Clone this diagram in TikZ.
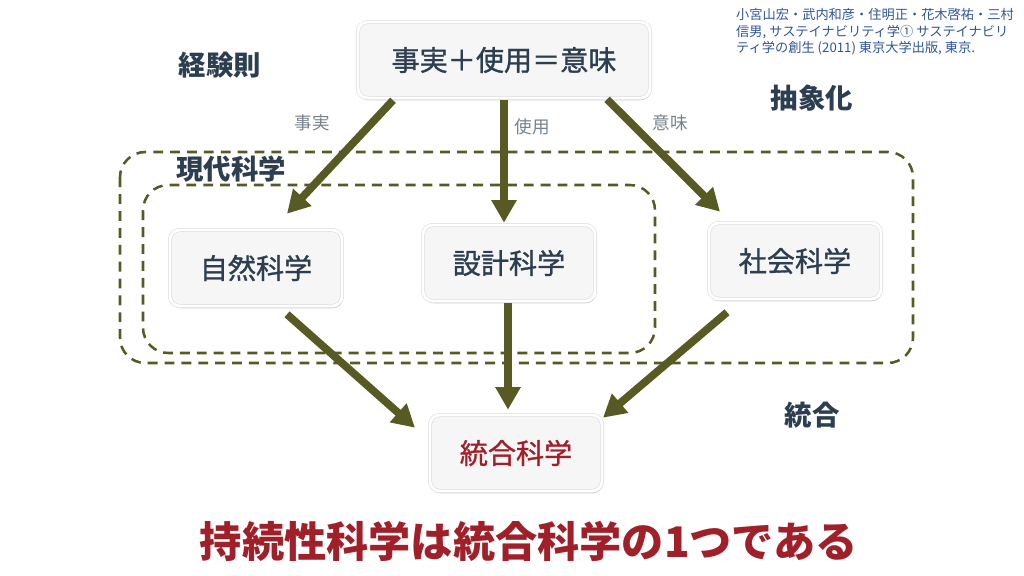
\documentclass[tikz,border=0pt]{standalone}
\usepackage{fontspec}
\setmainfont{Noto Sans CJK JP}
\newfontfamily\boxfont[FakeBold=1.1]{Noto Sans CJK JP}
\usetikzlibrary{arrows.meta,calc,shadows}

\definecolor{slate}{RGB}{44,62,80}
\definecolor{mossgreen}{RGB}{88,90,36}
\definecolor{deepred}{RGB}{160,32,42}
\definecolor{citeblue}{RGB}{47,85,151}

\begin{document}
\begin{tikzpicture}[x=0.025cm,y=-0.025cm]
\useasboundingbox (0,0) rectangle (1024,576);

\tikzset{box/.style = {draw=gray!30, double=white, double distance=2pt, line width=0.4pt,
  fill=gray!7, rounded corners=7pt, minimum width=4.3cm, minimum height=1.9cm,
  font=\boxfont\fontsize{20}{24}\selectfont, text=slate,
  drop shadow={opacity=0.4, shadow xshift=0.6pt, shadow yshift=-1.6pt}}}
\tikzset{edge/.style = {-{Triangle[length=16pt,width=17pt]}, line width=5.5pt, draw=mossgreen, fill=mossgreen}}
\tikzset{frame/.style = {draw=mossgreen, line width=1.8pt, dash pattern=on 7pt off 5pt, rounded corners=18pt}}
\tikzset{title/.style = {font=\bfseries\fontsize{19.5}{23}\selectfont, text=slate}}
\tikzset{lbl/.style = {font=\fontsize{12.5}{15}\selectfont, text=slate!65}}

% groups
\draw[frame] (120,152) rectangle (913,363);
\draw[frame] (143,185) rectangle (655,353);

% boxes
\node[box, minimum width=7.3cm] (top) at (504,60) {事実＋使用＝意味};
\foreach \pos/\name/\txt in {{(256,268)/nat/自然科学}, {(509,263)/des/設計科学}, {(795,261)/soc/社会科学}}
\node[box] (\name) at \pos {\txt};
\node[box, text=deepred] (syn) at (516,453) {統合科学};

% arrows
\foreach \from/\fx/\fy/\to/\tx/\ty in {top/-111/2/nat/31/-16, top/0/2/des/-5/-2, top/103/1/soc/-75/-11,
  nat/31/8/syn/-101/13, des/-1/2/syn/-8/-5, soc/-68/13/syn/87/3}
\draw[edge] ($(\from.south)+(\fx,\fy)$) -- ($(\to.north)+(\tx,\ty)$);

% labels
\node[lbl] (lfact) at (312,123) {事実};
\node[lbl] (luse) at (532,127) {使用};
\node[lbl] (lmean) at (670,123) {意味};

\node[title] (empirical) at (220,65) {経験則};
\node[title] (abstract) at (812,98) {抽象化};
\node[title] (modern) at (231,169) {現代科学};
\node[title] (integ) at (812,415) {統合};

\node[font=\bfseries\fontsize{30}{36}\selectfont, text=deepred] (claim) at (529,541) {持続性科学は統合科学の1つである};

\node[font=\fontsize{9.4}{11.9}\selectfont, text=citeblue, align=left] (ref) at (875,32)
  {小宮山宏・武内和彦・住明正・花木啓祐・三村\\信男, サステイナビリティ学① サステイナビリ\\ティ学の創生 (2011) 東京大学出版, 東京.};
\end{tikzpicture}
\end{document}
